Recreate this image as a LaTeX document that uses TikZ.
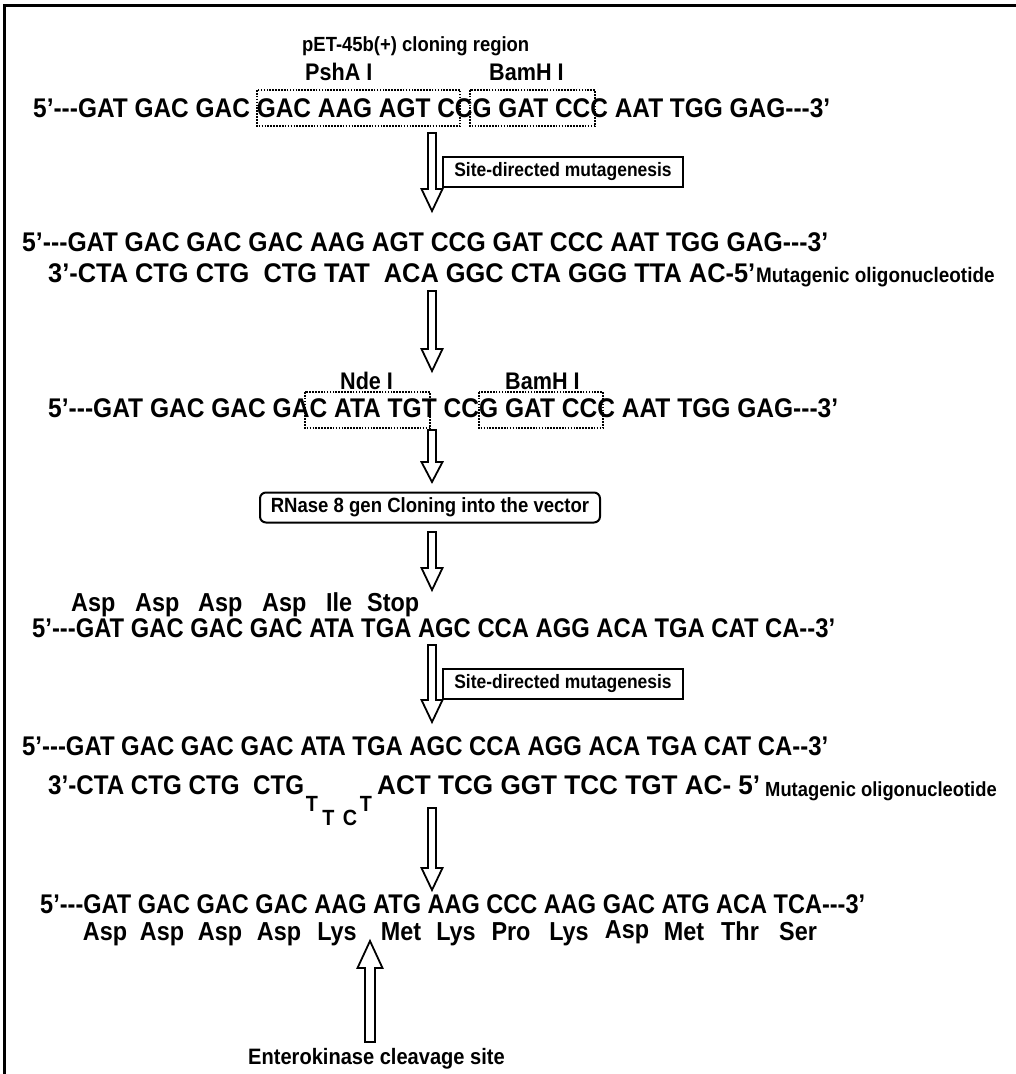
\documentclass[tikz,border=0pt]{standalone}
\usepackage{fontspec}
\usepackage{graphicx}
\newfontfamily\arn{Liberation Sans}[FakeStretch=0.9]
\usetikzlibrary{calc}
\newcommand\fw[2]{\resizebox{#1pt}{\height}{#2}}
\tikzset{
  seq/.style={font=\arn\bfseries\fontsize{27}{30}\selectfont, inner sep=0pt, anchor=base west},
  aa/.style={font=\arn\bfseries\fontsize{26}{30}\selectfont, inner sep=0pt, anchor=base},
  lab/.style={font=\arn\bfseries\fontsize{#1}{#1}\selectfont, inner sep=0pt, anchor=base west},
  site/.style={draw, line width=1.6pt, dash pattern=on 1.6pt off 1.3pt},
  sdm/.style={draw, line width=2.5pt, minimum width=240pt, minimum height=30pt, inner sep=0pt,
    font=\arn\bfseries\fontsize{19.4}{20}\selectfont},
  rbox/.style={draw, line width=2pt, rounded corners=6pt, minimum width=340pt, minimum height=30pt, inner sep=0pt,
    font=\arn\bfseries\fontsize{20.6}{21}\selectfont},
  harrow/.style={draw, fill=white, line width=1.8pt, line join=miter},
  frame/.style={line width=3pt}
}
% hollow arrow pointing down: start, tip, shaft half width, head half width, head length
\newcommand\hdown[5]{\draw[harrow] let \p1=(#1),\p2=(#2) in
  (\x1-#3pt,\y1) -- (\x1-#3pt,\y2+#5pt) -- (\x1-#4pt,\y2+#5pt) -- (\x1,\y2) --
  (\x1+#4pt,\y2+#5pt) -- (\x1+#3pt,\y2+#5pt) -- (\x1+#3pt,\y1) -- cycle;}
\newcommand\hup[5]{\draw[harrow] let \p1=(#1),\p2=(#2) in
  (\x1-#3pt,\y1) -- (\x1-#3pt,\y2-#5pt) -- (\x1-#4pt,\y2-#5pt) -- (\x1,\y2) --
  (\x1+#4pt,\y2-#5pt) -- (\x1+#3pt,\y2-#5pt) -- (\x1+#3pt,\y1) -- cycle;}
\begin{document}
\begin{tikzpicture}[x=1pt,y=-1pt]
\useasboundingbox (0,0) rectangle (1016,1074);
% frame
\draw[frame] (4,1076) -- (4,5) -- (1018,5);

% block 1
\node[lab=20.5] (title) at (302,51) {pET-45b(+) cloning region};
\node[lab=24] (psha) at (305,80) {PshA I};
\node[lab=24] (bamh1) at (489,80) {BamH I};
\node[seq] (s1) at (33,117) {\fw{797}{5’---GAT GAC GAC GAC AAG AGT CCG GAT CCC AAT TGG GAG---3’}};
\draw[site] (257,90) rectangle (460,126);
\draw[site] (470,90) rectangle (595,126);

\coordinate (a1s) at (432,133);
\coordinate (a1e) at (432,211);
\hdown{a1s}{a1e}{4}{10.5}{22}
\node[sdm] (sdm1) at (563,172) {Site-directed mutagenesis};

% block 2
\node[seq] (s2) at (22,251) {\fw{806}{5’---GAT GAC GAC GAC AAG AGT CCG GAT CCC AAT TGG GAG---3’}};
\node[seq] (s3) at (48,282) {\fw{707}{3’-CTA CTG CTG~ CTG TAT~ ACA GGC CTA GGG TTA AC-5’}};
\node[lab=21] (mo1) at (756,282) {Mutagenic oligonucleotide};

\coordinate (a2s) at (432,291);
\coordinate (a2e) at (432,371);
\hdown{a2s}{a2e}{4}{10.5}{22}

% block 3
\node[lab=24] (nde) at (340,389) {Nde I};
\node[lab=24] (bamh2) at (505,389) {BamH I};
\node[seq] (s4) at (48,417) {\fw{790}{5’---GAT GAC GAC GAC ATA TGT CCG GAT CCC AAT TGG GAG---3’}};
\draw[site] (305,392) rectangle (430,428);
\draw[site] (479,392) rectangle (603,428);

\coordinate (a3s) at (432,430);
\coordinate (a3e) at (432,482);
\hdown{a3s}{a3e}{4}{10.5}{20}
\node[rbox] (clone) at (430,507.5) {RNase 8 gen Cloning into the vector};
\coordinate (a4s) at (432,532);
\coordinate (a4e) at (432,590);
\hdown{a4s}{a4e}{4}{10.5}{22}

% block 4
\node[lab=26] (aa1a) at (71,611) {Asp};
\node[lab=26] (aa1b) at (135,611) {Asp};
\node[lab=26] (aa1c) at (198,611) {Asp};
\node[lab=26] (aa1d) at (262,611) {Asp};
\node[lab=26] (aa1e) at (326,611) {Ile};
\node[lab=26] (aa1f) at (367,611) {Stop};
\node[seq] (s5) at (32,637) {\fw{803}{5’---GAT GAC GAC GAC ATA TGA AGC CCA AGG ACA TGA CAT CA--3’}};

\coordinate (a5s) at (432,645);
\coordinate (a5e) at (432,722);
\hdown{a5s}{a5e}{4}{10.5}{22}
\node[sdm] (sdm2) at (563,684) {Site-directed mutagenesis};

% block 5
\node[seq] (s6) at (22,755) {\fw{806}{5’---GAT GAC GAC GAC ATA TGA AGC CCA AGG ACA TGA CAT CA--3’}};
\node[seq] (s7a) at (48,794) {\fw{256}{3’-CTA CTG CTG~ CTG}};
\node[lab=22, anchor=base] (t1) at (312,811) {T};
\node[lab=22, anchor=base] (t2) at (328.5,825) {T};
\node[lab=22, anchor=base] (c1) at (350,825) {C};
\node[lab=22, anchor=base] (t3) at (366,811) {T};
\node[seq] (s7b) at (377,794) {\fw{383}{ACT TCG GGT TCC TGT AC- 5’}};
\node[lab=20.4] (mo2) at (765,796) {Mutagenic oligonucleotide};

\coordinate (a6s) at (432,808);
\coordinate (a6e) at (432,890);
\hdown{a6s}{a6e}{4}{10.5}{22}

% block 6
\node[seq] (s8) at (40,913) {\fw{825}{5’---GAT GAC GAC GAC AAG ATG AAG CCC AAG GAC ATG ACA TCA---3’}};
\node[aa] (p1) at (105,940) {Asp};
\node[aa] (p2) at (162,940) {Asp};
\node[aa] (p3) at (220,940) {Asp};
\node[aa] (p4) at (279,940) {Asp};
\node[aa] (p5) at (337,940) {Lys};
\node[aa] (p6) at (401,940) {Met};
\node[aa] (p7) at (456,940) {Lys};
\node[aa] (p8) at (511,940) {Pro};
\node[aa] (p9) at (569,940) {Lys};
\node[aa] (p10) at (627,938.5) {Asp};
\node[aa] (p11) at (684,940) {Met};
\node[aa] (p12) at (740,940) {Thr};
\node[aa] (p13) at (798,940) {Ser};

\coordinate (eks) at (370,1042);
\coordinate (eke) at (370,941);
\hup{eks}{eke}{5}{12.5}{27}
\node[lab=22.3] (ek) at (248,1064) {Enterokinase cleavage site};
\end{tikzpicture}
\end{document}
